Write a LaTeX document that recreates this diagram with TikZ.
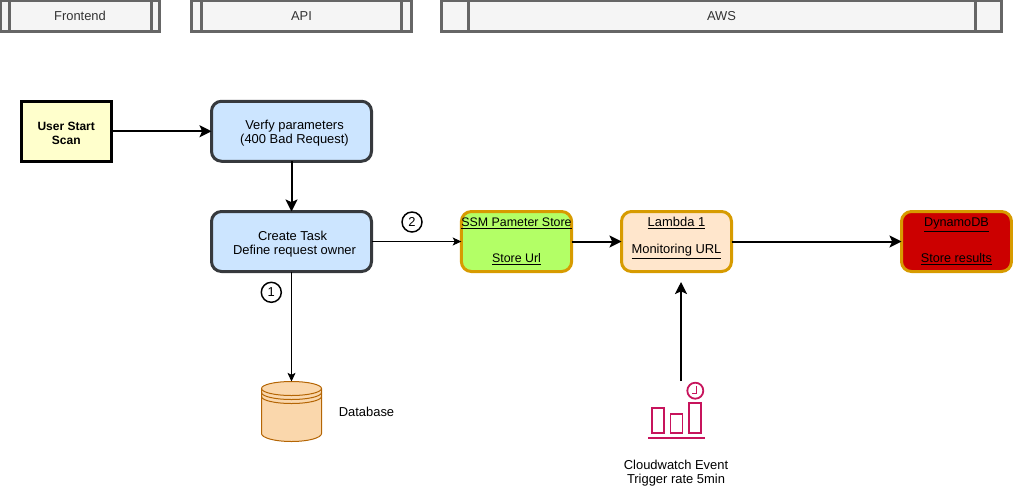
\documentclass[tikz,border=0pt]{standalone}
\usepackage{fontspec}
\setmainfont{Liberation Sans}
\usetikzlibrary{arrows.meta}
\definecolor{lanegray}{HTML}{666666}
\definecolor{lanefill}{HTML}{F5F5F5}
\definecolor{lanetext}{HTML}{333333}
\definecolor{bluefill}{HTML}{CCE5FF}
\definecolor{bluedraw}{HTML}{36393D}
\definecolor{orangedraw}{HTML}{D79B00}
\definecolor{greenfill}{HTML}{B3FF66}
\definecolor{peachfill}{HTML}{FFE6CC}
\definecolor{redfill}{HTML}{CC0000}
\definecolor{yellowfill}{HTML}{FFFFCC}
\definecolor{dbfill}{HTML}{FAD7AC}
\definecolor{dbdraw}{HTML}{B46504}
\definecolor{cwcolor}{HTML}{C7145C}
\newcommand{\pxu}{0.75pt}
\newcommand{\lowerfirst}{\rule{0pt}{10.5pt}}
\newcommand{\nudge}{\hspace*{4.5pt}}
\tikzset{
  x=0.75pt, y=-0.75pt,
  every node/.style={font=\fontsize{9.7}{10.5}\selectfont, align=center, inner sep=0pt, outer sep=0pt},
  lane/.style={draw=lanegray, fill=lanefill, line width=2.25pt, text=lanetext, minimum height=31.5*\pxu},
  lanerule/.style={draw=lanegray, line width=2.25pt},
  soft/.style={rounded corners=7.5pt, minimum width=160*\pxu, minimum height=60*\pxu},
  bluebox/.style={soft, draw=bluedraw, fill=bluefill, line width=2.25pt},
  awsbox/.style={rounded corners=7.5pt, draw=orangedraw, line width=2.25pt, minimum width=110*\pxu, minimum height=60*\pxu},
  startbox/.style={draw=black, fill=yellowfill, line width=2.25pt, minimum width=90*\pxu, minimum height=60*\pxu, font=\fontsize{9}{10.5}\selectfont\bfseries},
  numbered/.style={circle, draw=black, line width=1.1pt, minimum size=20*\pxu},
  plain/.style={},
  thickflow/.style={draw=black, line width=1.5pt, -{Stealth[length=9pt,width=9pt,inset=2pt]}},
  thinflow/.style={draw=black, line width=0.75pt, -{Stealth[length=6.5pt,width=6pt,inset=1.5pt]}},
}
\begin{document}
\begin{tikzpicture}
\useasboundingbox (0,0) rectangle (1013,486);
% swimlane headers
\node[lane, minimum width=159*\pxu] (fe) at (80,15.75) {Frontend};
\draw[lanerule] (9.5,0) -- (9.5,31.5) (151.5,0) -- (151.5,31.5);
\node[lane, minimum width=220*\pxu] (api) at (301.5,15.75) {API};
\draw[lanerule] (201.5,0) -- (201.5,31.5) (401.5,0) -- (401.5,31.5);
\node[lane, minimum width=560*\pxu] (aws) at (721.5,15.75) {AWS};
\draw[lanerule] (468,0) -- (468,31.5) (975,0) -- (975,31.5);
% main boxes
\node[startbox] (start) at (66.25,131.25) {\rule{0pt}{9.5pt}User Start\\Scan};
\node[bluebox] (verify) at (291.5,131.25) {\lowerfirst\nudge Verfy parameters\\\nudge (400 Bad Request)};
\node[bluebox] (task) at (291.5,241.5) {\lowerfirst\hspace*{1.5pt}Create Task\\\nudge Define request owner};
\node[awsbox, fill=greenfill, font=\fontsize{9.3}{10.5}\selectfont] (ssm) at (516.5,241.5) {\underline{SSM Pameter Store}\\[16.5pt]\underline{Store Url}};
\node[awsbox, fill=peachfill] (lambda) at (676.5,241.5) {\underline{Lambda 1}\\[9.8pt]\underline{Monitoring URL}\rule[-9.5pt]{0pt}{0pt}};
\node[awsbox, fill=redfill, font=\fontsize{9.5}{10.5}\selectfont] (dynamo) at (956.5,241.5) {\underline{DynamoDB}\\[15pt]\underline{Store results}};
% database
\node[minimum width=60*\pxu, minimum height=60*\pxu] (db) at (291.5,411.5) {};
\filldraw[draw=dbdraw, fill=dbfill, line width=0.75pt]
  (db.north west) ++(0,7) arc[x radius=30, y radius=7, start angle=180, end angle=360]
  -- ++(0,45) arc[x radius=30, y radius=8, start angle=0, end angle=180] -- cycle;
\draw[draw=dbdraw, line width=0.75pt]
  (db.north west) ++(0,7) arc[x radius=30, y radius=7, start angle=180, end angle=0]
  (db.north west) ++(0,11) arc[x radius=30, y radius=7, start angle=180, end angle=0]
  (db.north west) ++(0,15) arc[x radius=30, y radius=7, start angle=180, end angle=0];
\node[plain] (dblabel) at (366.5,412) {Database};
% cloudwatch icon
\node[minimum width=60*\pxu, minimum height=60*\pxu] (cw) at (677,410) {};
\begin{scope}[draw=cwcolor, line width=1.35pt]
  \draw (652,408) rectangle (664,433);
  \draw (670.5,414) rectangle (682.5,433);
  \draw (689,403) rectangle (701,433);
  \draw (648,438) -- (705,438);
  \draw (695.3,390.7) circle[radius=8];
  \draw (696.5,385.5) -- (696.5,393.5) -- (691.5,393.5);
\end{scope}
\node[plain] (cwlabel) at (676,473) {Cloudwatch Event\\Trigger rate 5min};
% numbers
\node[numbered] (one) at (271.3,292.3) {1};
\node[numbered] (two) at (412,222) {2};
% connectors
\coordinate (cwtop) at (681,381);
\coordinate (lambdain) at (681,282);
\draw[thickflow] (start.east) -- (verify.west);
\draw[thickflow] (verify) -- (task);
\draw[thinflow] (task) -- (db.north);
\draw[thinflow] (task) -- (ssm);
\draw[thickflow] (ssm) -- (lambda);
\draw[thickflow] (lambda) -- (dynamo);
\draw[thickflow] (cwtop) -- (lambdain);
\end{tikzpicture}
\end{document}
